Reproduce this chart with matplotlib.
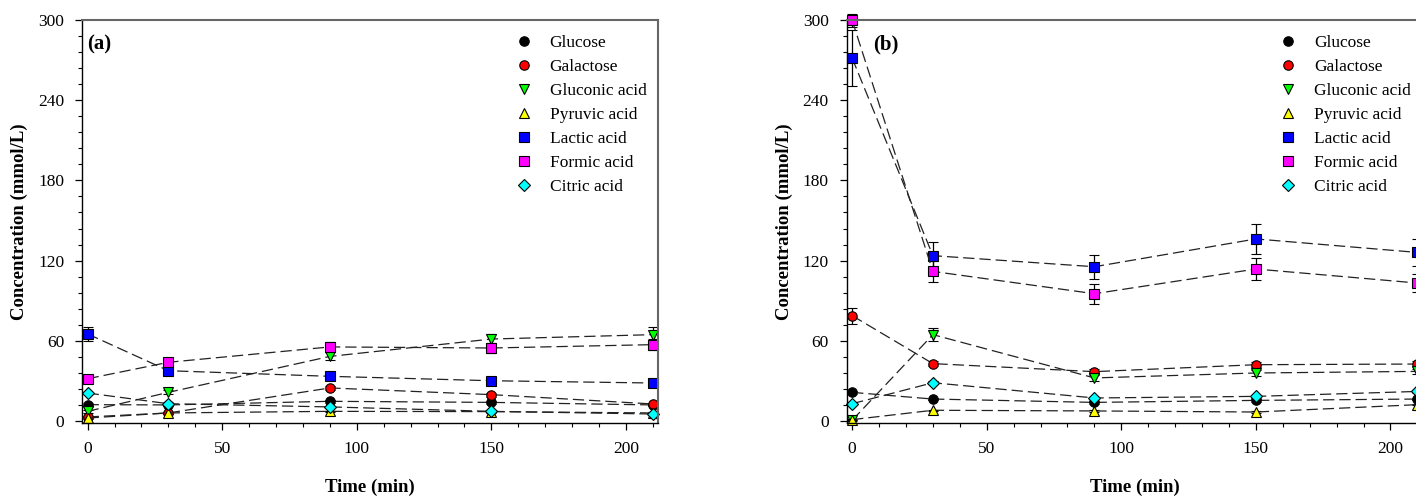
#!/usr/bin/env python

import numpy as np
import matplotlib
matplotlib.use('Agg')
import matplotlib.pyplot as plt
from matplotlib.ticker import MultipleLocator

plt.rcParams['font.family'] = ['Liberation Serif', 'DejaVu Serif']

time_min = [0, 30, 90, 150, 210]
species = ['Glucose', 'Galactose', 'Gluconic acid', 'Pyruvic acid',
           'Lactic acid', 'Formic acid', 'Citric acid']
markers = ['o', 'o', 'v', '^', 's', 's', 'D']
colors = ['#000000', '#ff0000', '#00ff00', '#ffff00',
          '#0000ff', '#ff00ff', '#00ffff']

# panel (a)
conc_a = {
    'Glucose':       [12.2, 12.0, 14.7, 13.9, 12.0],
    'Galactose':     [3.0, 6.0, 24.7, 19.7, 12.7],
    'Gluconic acid': [7.2, 21.4, 48.3, 61.3, 64.6],
    'Pyruvic acid':  [2.2, 6.0, 7.2, 7.0, 6.0],
    'Lactic acid':   [65.1, 37.6, 33.4, 30.1, 28.4],
    'Formic acid':   [31.6, 43.9, 55.4, 54.6, 57.1],
    'Citric acid':   [20.9, 12.9, 10.5, 7.2, 5.2],
}
err_a = {
    'Glucose':       [1.0, 1.0, 1.0, 1.0, 1.0],
    'Galactose':     [1.0, 1.0, 1.5, 1.5, 1.0],
    'Gluconic acid': [1.0, 1.5, 3.0, 4.0, 5.5],
    'Pyruvic acid':  [0.5, 0.5, 0.5, 0.5, 0.5],
    'Lactic acid':   [5.0, 2.0, 2.0, 1.5, 1.5],
    'Formic acid':   [1.5, 2.5, 4.0, 3.5, 4.0],
    'Citric acid':   [1.0, 1.0, 1.0, 1.0, 1.0],
}

# panel (b)
conc_b = {
    'Glucose':       [21.4, 16.4, 13.9, 15.4, 16.4],
    'Galactose':     [78.8, 42.9, 36.9, 42.1, 42.6],
    'Gluconic acid': [0.5, 64.6, 32.2, 35.9, 37.1],
    'Pyruvic acid':  [1.0, 8.0, 7.5, 6.7, 12.2],
    'Lactic acid':   [271.5, 123.7, 115.4, 136.2, 126.1],
    'Formic acid':   [299.8, 111.9, 95.2, 113.7, 103.2],
    'Citric acid':   [12.9, 28.6, 17.2, 18.4, 22.1],
}
err_b = {
    'Glucose':       [1.0, 1.0, 1.0, 1.0, 1.0],
    'Galactose':     [6.0, 2.0, 2.0, 2.0, 2.0],
    'Gluconic acid': [0.5, 5.0, 2.5, 2.0, 2.0],
    'Pyruvic acid':  [0.5, 0.5, 0.5, 0.5, 0.5],
    'Lactic acid':   [21.0, 10.0, 9.0, 11.0, 10.0],
    'Formic acid':   [5.0, 8.0, 7.5, 8.0, 7.0],
    'Citric acid':   [1.0, 1.0, 1.0, 1.0, 1.0],
}

panel_labels = ['(a)', '(b)']
label_x = [0.009, 0.046]


def draw_panel(ax, conc, err, label, lx):
    for name, mk, col in zip(species, markers, colors):
        ms = 6.0 if mk == 'D' else 6.8
        ax.errorbar(time_min, conc[name], yerr=err[name],
                    color='#222222', linestyle=(0, (9, 4)), linewidth=0.9,
                    marker=mk, markersize=ms, markerfacecolor=col,
                    markeredgecolor='black', markeredgewidth=0.8,
                    ecolor='black', elinewidth=0.9, capsize=3.5,
                    capthick=0.9, label=name, clip_on=False)
    ax.set_xlim(-2, 212)
    ax.set_ylim(-1.3, 300)
    ax.xaxis.set_major_locator(MultipleLocator(50))
    ax.xaxis.set_minor_locator(MultipleLocator(10))
    ax.yaxis.set_major_locator(MultipleLocator(60))
    ax.yaxis.set_minor_locator(MultipleLocator(12))
    ax.tick_params(which='major', length=5, width=0.9, labelsize=12.5,
                   pad=8, direction='out')
    ax.tick_params(which='minor', length=3, width=0.8, direction='out')
    for side in ['left', 'bottom']:
        ax.spines[side].set_color('black')
        ax.spines[side].set_linewidth(1.0)
    for side in ['top', 'right']:
        ax.spines[side].set_color('#666666')
        ax.spines[side].set_linewidth(1.5)
    ax.set_xlabel('Time (min)', fontsize=13.5, fontweight='bold', labelpad=16)
    ax.set_ylabel('Concentration (mmol/L)', fontsize=13.5,
                  fontweight='bold', labelpad=7)
    ax.text(lx, 0.965, label, transform=ax.transAxes, fontsize=15,
            fontweight='bold', va='top', ha='left')
    handles, names = ax.get_legend_handles_labels()
    handles = [h[0] for h in handles]
    leg = ax.legend(handles, names, loc='upper left',
                    bbox_to_anchor=(0.73, 0.99), frameon=False,
                    fontsize=12.5, handlelength=1.2, handletextpad=0.9,
                    labelspacing=0.46, borderaxespad=0.2)
    for h in leg.legend_handles:
        h.set_linestyle('None')


fig = plt.figure(figsize=(14.16, 4.98), dpi=100)
ax_a = fig.add_axes([0.0581, 0.1512, 0.4068, 0.8086])
ax_b = fig.add_axes([0.598, 0.1512, 0.4068, 0.8086])
draw_panel(ax_a, conc_a, err_a, panel_labels[0], label_x[0])
draw_panel(ax_b, conc_b, err_b, panel_labels[1], label_x[1])

fig.savefig('out.png', dpi=100)
